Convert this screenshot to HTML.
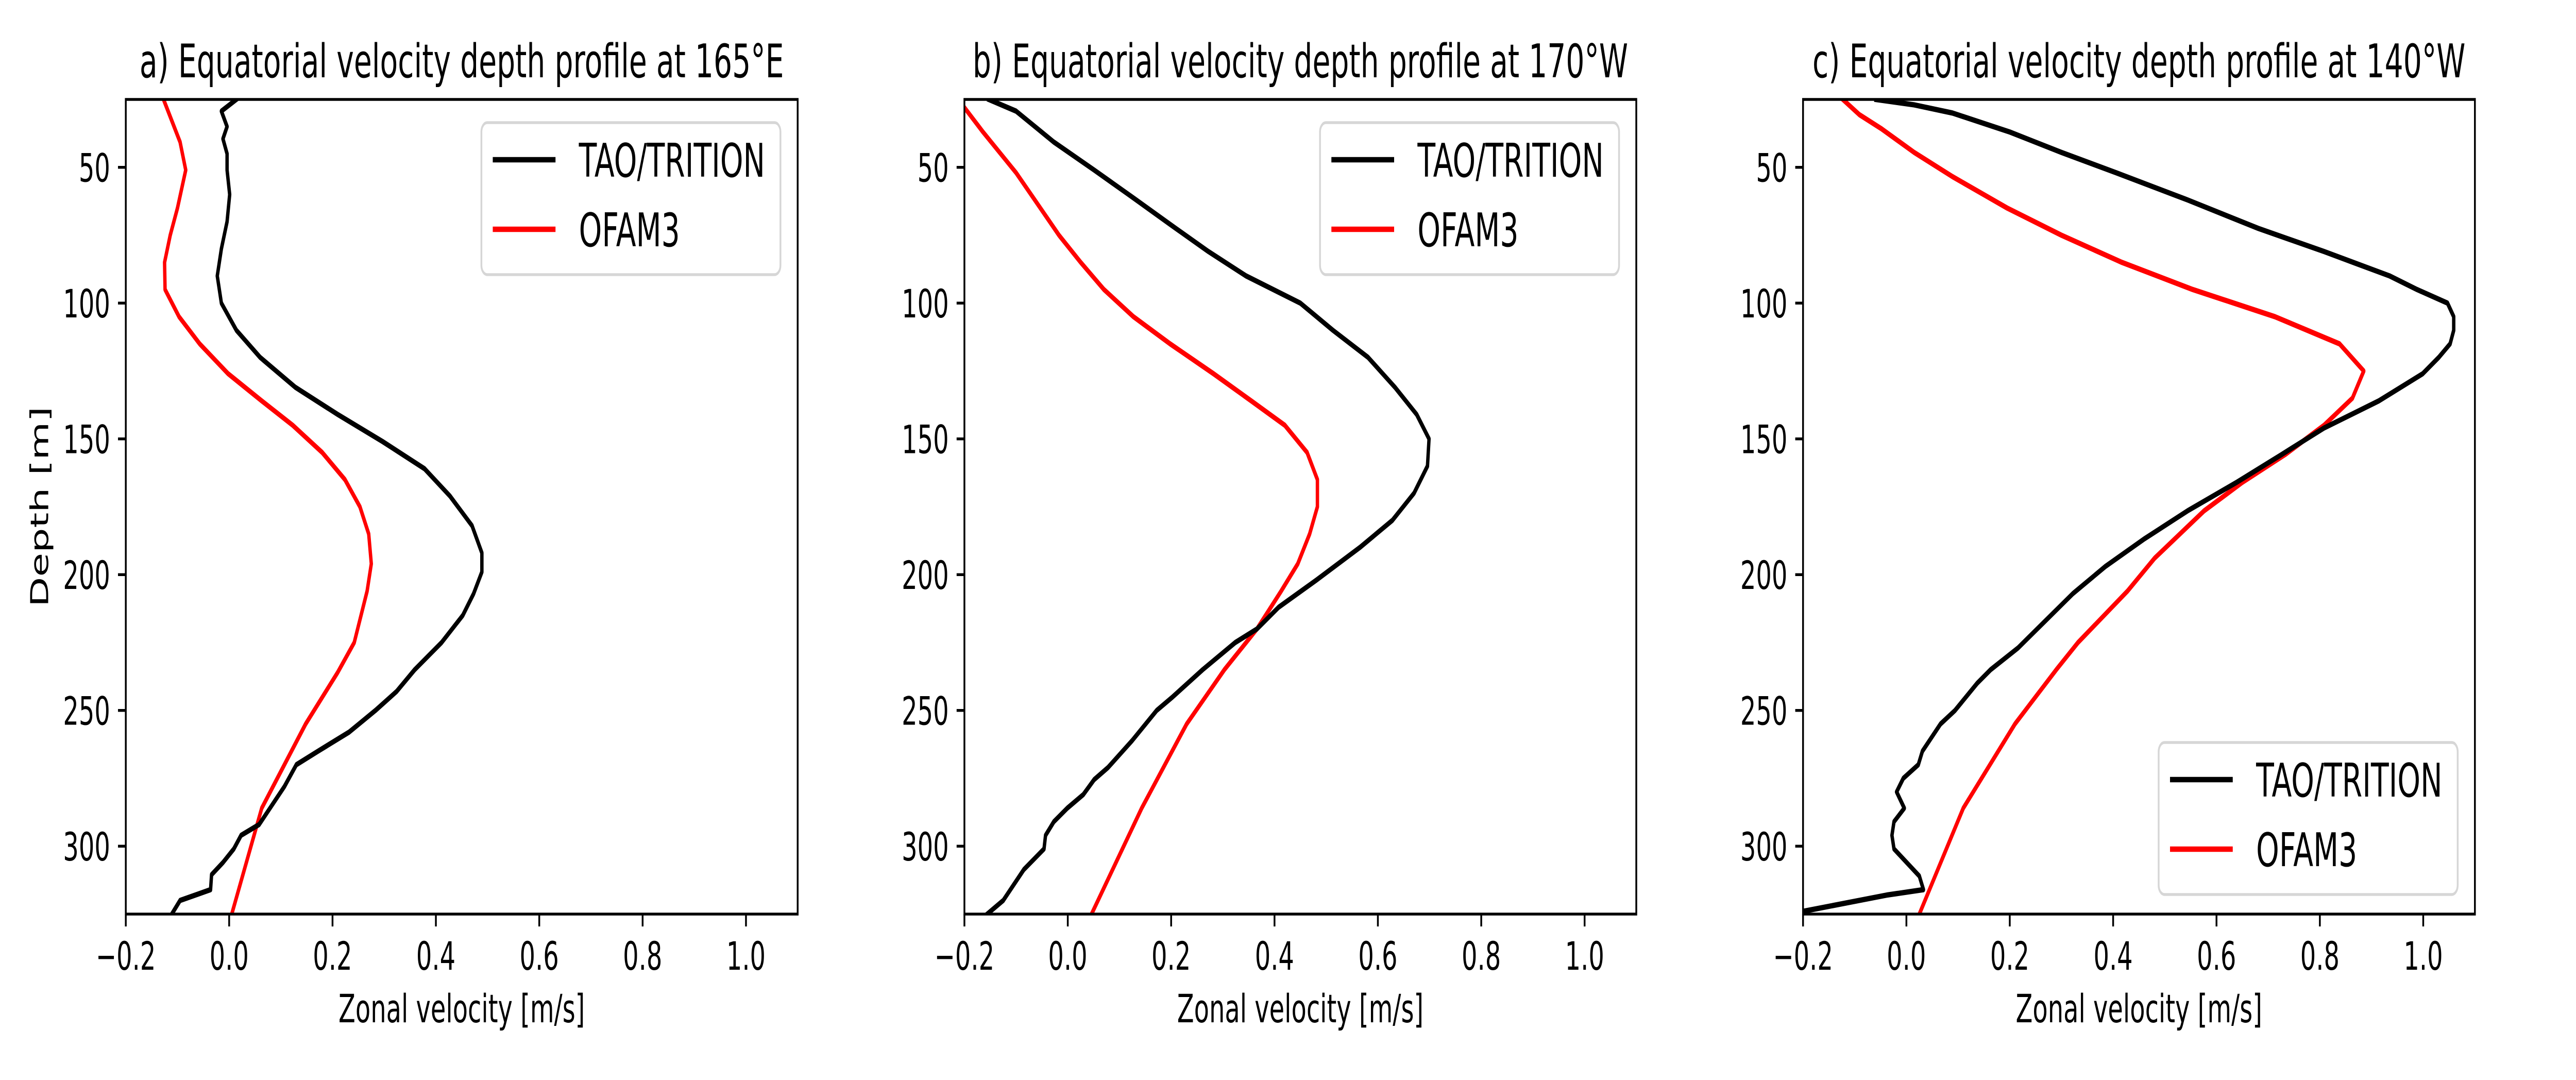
<!DOCTYPE html>
<html><head><meta charset="utf-8">
<style>
html,body{margin:0;padding:0;background:#fff;overflow:hidden;}
svg{display:block;width:100vw;height:100vh;}
text{font-family:"DejaVu Sans","Liberation Sans",sans-serif;fill:#000;}
</style></head>
<body>
<svg id="fig" xmlns="http://www.w3.org/2000/svg" viewBox="0 0 7925 2096" preserveAspectRatio="none"></svg>
<script>
const xTicks = [-0.2, 0.0, 0.2, 0.4, 0.6, 0.8, 1.0];
const xTickLabels = ["\u22120.2", "0.0", "0.2", "0.4", "0.6", "0.8", "1.0"];
const yTicks = [50, 100, 150, 200, 250, 300];
const yTickLabels = ["50", "100", "150", "200", "250", "300"];
const panelTitles = ["a) Equatorial velocity depth profile at 165\u00b0E", "b) Equatorial velocity depth profile at 170\u00b0W", "c) Equatorial velocity depth profile at 140\u00b0W"];
const seriesNames = ["TAO/TRITION", "OFAM3"];

const taoA_depth = [25,29.3,35,39.5,45,51,60,70,80,90,100,110,120,131,141,151,161,171,182,192,199,207,215,225,235,243,250,258,265,270,278,286,292,296,301,306,310.5,316,320,325];
const taoA_vel = [0.014,-0.015,-0.004,-0.012,-0.004,-0.004,0.001,-0.004,-0.015,-0.023,-0.015,0.014,0.06,0.128,0.21,0.297,0.378,0.427,0.47,0.489,0.489,0.473,0.452,0.411,0.359,0.324,0.283,0.232,0.172,0.130,0.107,0.079,0.058,0.023,0.009,-0.012,-0.034,-0.036,-0.095,-0.111];
const ofamA_depth = [25,40.7,51,65,75,85,95,105,115,126,136,145,155,165,175,185,196,206,225,236,255,286,325];
const ofamA_vel = [-0.127,-0.095,-0.084,-0.1,-0.114,-0.125,-0.124,-0.097,-0.057,-0.002,0.063,0.123,0.18,0.224,0.253,0.27,0.275,0.267,0.242,0.21,0.148,0.063,0.005];

const taoB_depth = [25,29.3,35.7,40.7,51,61,71,81,90,100,110,120,131,141,150,160,170,180,190,202,212,220,225,235,245,250,261,271,275.5,281,286,291,296,301,308.6,316,320,325];
const taoB_vel = [-0.153,-0.1,-0.059,-0.027,0.051,0.125,0.198,0.272,0.345,0.45,0.513,0.581,0.633,0.675,0.699,0.696,0.67,0.628,0.565,0.481,0.408,0.366,0.324,0.261,0.203,0.172,0.125,0.078,0.051,0.03,-0.001,-0.027,-0.043,-0.046,-0.085,-0.111,-0.125,-0.156];
const ofamB_depth = [28,37,52,65,75,85,95,105,115,126,136,145,155,165,175,185,196,206,220,235,255,286,325];
const ofamB_vel = [-0.2,-0.164,-0.1,-0.053,-0.017,0.025,0.07,0.127,0.198,0.282,0.355,0.42,0.463,0.483,0.483,0.468,0.445,0.413,0.366,0.303,0.23,0.143,0.046];

const taoC_depth = [25,27,30,37,44.5,52,62,72.5,81,90,95,100,105,110,115,120,126,136,146,156,166,176.5,187,197,207,217,227,235,240,250,255,265,270,275,280,286,291,296,301,311,316,318,324];
const taoC_vel = [-0.059,0.015,0.089,0.2,0.3,0.406,0.544,0.681,0.808,0.935,0.988,1.047,1.059,1.059,1.052,1.03,0.999,0.914,0.808,0.724,0.639,0.544,0.459,0.385,0.322,0.269,0.216,0.163,0.137,0.094,0.066,0.031,0.023,-0.006,-0.019,-0.004,-0.024,-0.028,-0.024,0.025,0.033,-0.038,-0.2];
const ofamC_depth = [25,30.6,35.7,44.5,53.4,65,75,85,95,105,115,125,135,145,155.6,166,176.5,194,206,225,235,255,286,325];
const ofamC_vel = [-0.123,-0.091,-0.049,0.015,0.089,0.195,0.3,0.417,0.554,0.713,0.838,0.885,0.863,0.808,0.734,0.65,0.576,0.48,0.428,0.332,0.29,0.21,0.11,0.025];

const NS = "http://www.w3.org/2000/svg";
const svg = document.getElementById('fig');
function mk(tag, attrs, parent){
  const e = document.createElementNS(NS, tag);
  for (const k in attrs) e.setAttribute(k, attrs[k]);
  (parent || svg).appendChild(e);
  return e;
}
const X0 = -0.2, X1 = 1.1, Y0 = 25, Y1 = 325;
const PW = 2067, PT = 193, PB = 1774;
const lefts = [387, 2967, 5547];
const panels = [
  {tv: taoA_vel, td: taoA_depth, ov: ofamA_vel, od: ofamA_depth, legend: 'top'},
  {tv: taoB_vel, td: taoB_depth, ov: ofamB_vel, od: ofamB_depth, legend: 'top'},
  {tv: taoC_vel, td: taoC_depth, ov: ofamC_vel, od: ofamC_depth, legend: 'bottom'}
];

panels.forEach((p, i) => {
  const L = lefts[i];
  const xs = v => L + (v - X0) / (X1 - X0) * PW;
  const ys = d => PT + (d - Y0) / (Y1 - Y0) * (PB - PT);
  const g = mk('g', {});
  
  

  const clipId = 'clip' + i;
  const cp = mk('clipPath', {id: clipId}, g);
  mk('rect', {x: L, y: PT, width: PW, height: PB - PT}, cp);

  const drawLine = (vals, deps, color, name) => {
    const pts = vals.map((v, k) => xs(v).toFixed(1) + ',' + ys(deps[k]).toFixed(1)).join(' ');
    const pl = mk('polyline', {points: pts, fill: 'none', stroke: color, 'stroke-width': 10.4, 'stroke-linejoin': 'round', 'stroke-linecap': 'square', 'clip-path': 'url(#' + clipId + ')'}, g);
    
    
  };
  drawLine(p.ov, p.od, '#ff0000', 'ofam3-line');
  drawLine(p.tv, p.td, '#000000', 'tao-triton-line');

  const fr = mk('rect', {x: L, y: PT, width: PW, height: PB - PT, fill: 'none', stroke: '#000', 'stroke-width': 5.5}, g);
  
  

  xTicks.forEach((t, k) => {
    const x = xs(t);
    mk('line', {x1: x, y1: PB, x2: x, y2: PB + 24, stroke: '#000', 'stroke-width': 5.5}, g);
    const tl = mk('text', {x: x, y: 1882, 'font-size': 76, 'text-anchor': 'middle'}, g);
    tl.textContent = xTickLabels[k];
    
    
  });
  yTicks.forEach((t, k) => {
    const y = ys(t);
    mk('line', {x1: L, y1: y, x2: L - 24, y2: y, stroke: '#000', 'stroke-width': 5.5}, g);
    const tl = mk('text', {x: L - 48, y: y + 28, 'font-size': 76, 'text-anchor': 'end'}, g);
    tl.textContent = yTickLabels[k];
    
    
  });

  const xl = mk('text', {x: L + PW / 2, y: 1984, 'font-size': 76, 'text-anchor': 'middle'}, g);
  xl.textContent = 'Zonal velocity [m/s]';
  
  

  const ti = mk('text', {x: L + PW / 2, y: 150, 'font-size': 90, 'text-anchor': 'middle'}, g);
  ti.textContent = panelTitles[i];
  
  

  if (i === 0) {
    const yl = mk('text', {x: 0, y: 0, 'font-size': 76, 'text-anchor': 'middle', transform: 'translate(148,' + ((PT + PB) / 2) + ') rotate(-90)'}, g);
    yl.textContent = 'Depth [m]';
    
    
  }

  const lw = 920, lh = 295;
  const lx = L + PW - 53 - lw;
  const ly = p.legend === 'top' ? PT + 45 : PB - 38 - lh;
  const lg = mk('g', {}, g);
  
  
  mk('rect', {x: lx, y: ly, width: lw, height: lh, rx: 18, fill: '#fff', 'fill-opacity': 0.8, stroke: '#d6d6d6', 'stroke-width': 5.5}, lg);
  const colors = ['#000000', '#ff0000'];
  seriesNames.forEach((n, k) => {
    const cy = ly + 72 + k * 135;
    const e = mk('g', {}, lg);
    
    
    mk('line', {x1: lx + 35, y1: cy, x2: lx + 228, y2: cy, stroke: colors[k], 'stroke-width': 10.4}, e);
    const t = mk('text', {x: lx + 300, y: cy + 33, 'font-size': 90}, e);
    t.textContent = n;
  });
});
</script>
</body></html>
